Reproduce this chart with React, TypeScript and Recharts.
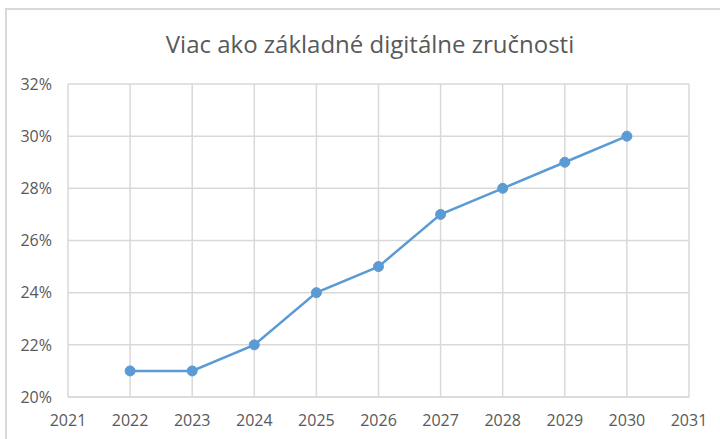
import React from "react";
import { LineChart, Line, XAxis, YAxis, CartesianGrid } from "recharts";

const years = [2022, 2023, 2024, 2025, 2026, 2027, 2028, 2029, 2030];
const values = [21, 21, 22, 24, 25, 27, 28, 29, 30];
const xTicks = [2021, 2022, 2023, 2024, 2025, 2026, 2027, 2028, 2029, 2030, 2031];
const yTicks = [20, 22, 24, 26, 28, 30, 32];
const title = "Viac ako základné digitálne zručnosti";

const data = years.map((y, i) => ({ year: y, value: values[i] }));

const font = "'Open Sans', 'Noto Sans', sans-serif";
const textColor = "#595959";
const gridColor = "#d9d9d9";

export default function App() {
  return (
    <div style={{ position: "absolute", left: 0, top: 0, width: 720, height: 439, overflow: "hidden", background: "#fff" }}>
      <div
        style={{
          position: "absolute",
          left: 5,
          top: 8,
          width: 740,
          height: 460,
          border: "2px solid #d9d9d9",
          boxSizing: "border-box",
        }}
      />
      <div
        style={{
          position: "absolute",
          left: 0,
          width: 740,
          top: 27,
          textAlign: "center",
          fontFamily: font,
          fontSize: 24,
          color: textColor,
          lineHeight: "34px",
        }}
      >
        {title}
      </div>
      <div style={{ position: "absolute", left: 0, top: 0 }}>
        <LineChart width={720} height={439} data={data} margin={{ top: 84, right: 31, bottom: 0, left: 0 }}>
          <CartesianGrid stroke={gridColor} strokeWidth={1.5} verticalValues={xTicks} horizontalValues={yTicks} />
          <XAxis
            dataKey="year"
            type="number"
            domain={[2021, 2031]}
            ticks={xTicks}
            interval={0}
            height={42}
            tickLine={false}
            axisLine={{ stroke: gridColor, strokeWidth: 1.5 }}
            tickSize={6}
            tickMargin={12}
            tick={{ fill: textColor, fontSize: 16, fontFamily: font }}
          />
          <YAxis
            type="number"
            domain={[20, 32]}
            ticks={yTicks}
            interval={0}
            width={68}
            tickLine={false}
            axisLine={false}
            tickSize={6}
            tickMargin={10}
            tickFormatter={(v: number) => `${v}%`}
            tick={{ fill: textColor, fontSize: 16, fontFamily: font }}
          />
          <Line
            type="linear"
            dataKey="value"
            stroke="#5b9bd5"
            strokeWidth={2.5}
            dot={{ r: 5, fill: "#5b9bd5", stroke: "#5b9bd5", strokeWidth: 1 }}
            isAnimationActive={false}
          />
        </LineChart>
      </div>
    </div>
  );
}
